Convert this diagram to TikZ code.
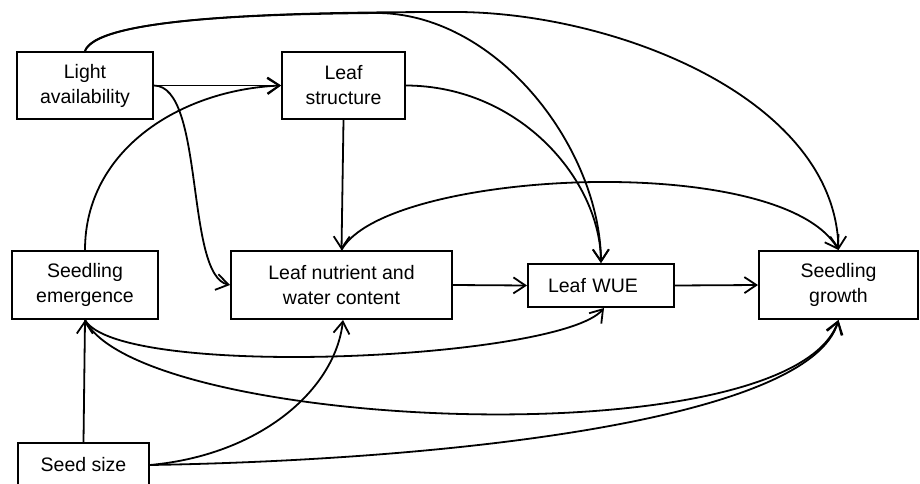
\documentclass[tikz,border=0pt]{standalone}
\usepackage{fontspec}
\setmainfont{Liberation Sans}
\usetikzlibrary{arrows.meta}
\begin{document}
\begin{tikzpicture}[x=1pt,y=-1pt,
  box/.style={draw, line width=2pt, inner sep=0pt, align=center,
    font=\fontsize{19.5}{25}\selectfont},
  link/.style={line width=1.8pt, -{Straight Barb[length=12pt,width=16pt,line width=1.8pt]}}]
\useasboundingbox (0,0) rectangle (920,484);
\fill[white] (0,0) rectangle (920,484);
\node[box, minimum width=136pt, minimum height=67pt] (light) at (85,85.5) {Light\\availability};
\node[box, minimum width=123pt, minimum height=67pt] (struct) at (343.5,85.5) {Leaf\\structure};
\node[box, minimum width=146pt, minimum height=68pt] (emerg) at (85,285) {Seedling\\emergence};
\node[box, minimum width=221pt, minimum height=68pt] (nutr) at (341.5,285) {Leaf nutrient and\\water content};
\node[box, minimum width=146pt, minimum height=43pt, text width=130pt, align=left] (wue) at (601,285.5) {\hspace*{12pt}Leaf WUE};
\node[box, minimum width=159pt, minimum height=68pt] (growth) at (838.5,285) {Seedling\\growth};
\node[box, minimum width=131pt, minimum height=44pt] (seed) at (83.5,465) {Seed size};

% straight links
\draw[link] (light.east) -- (struct.west);
\draw[link] (struct.south) -- (nutr.north);
\draw[link] (nutr.east) -- (wue.west);
\draw[link] (wue.east) -- (growth.west);
\draw[link] (seed.north) -- (emerg.south);

% curved links
\coordinate (top1) at (380,13);
\coordinate (top2) at (460,12);
\draw[link] (light.north) .. controls (95,20) and (250,14) .. (top1)
  .. controls (500,16) and (600,150) .. (wue.north);
\draw[link] (light.north) .. controls (100,15) and (300,12) .. (top2)
  .. controls (620,14) and (835,100) .. (growth.north);
\draw[link] (struct.east) .. controls (520,86) and (600,180) .. (wue.north);
\draw[link] (nutr.north) .. controls (385,170) and (780,150) .. (growth.north);
\draw[link] (emerg.north) .. controls (85,150) and (180,90) .. (struct.west);
\draw[link] (light.east) .. controls (205,86) and (185,275) .. (nutr.west);
\draw[link] (emerg.south) .. controls (120,380) and (560,360) .. ([xshift=3pt]wue.south);
\draw[link] (emerg.south) .. controls (140,430) and (790,460) .. (growth.south);
\draw[link] (seed.east) .. controls (450,460) and (810,420) .. (growth.south);
\draw[link] (seed.east) .. controls (260,455) and (335,390) .. ([xshift=1.5pt]nutr.south);
\end{tikzpicture}
\end{document}
